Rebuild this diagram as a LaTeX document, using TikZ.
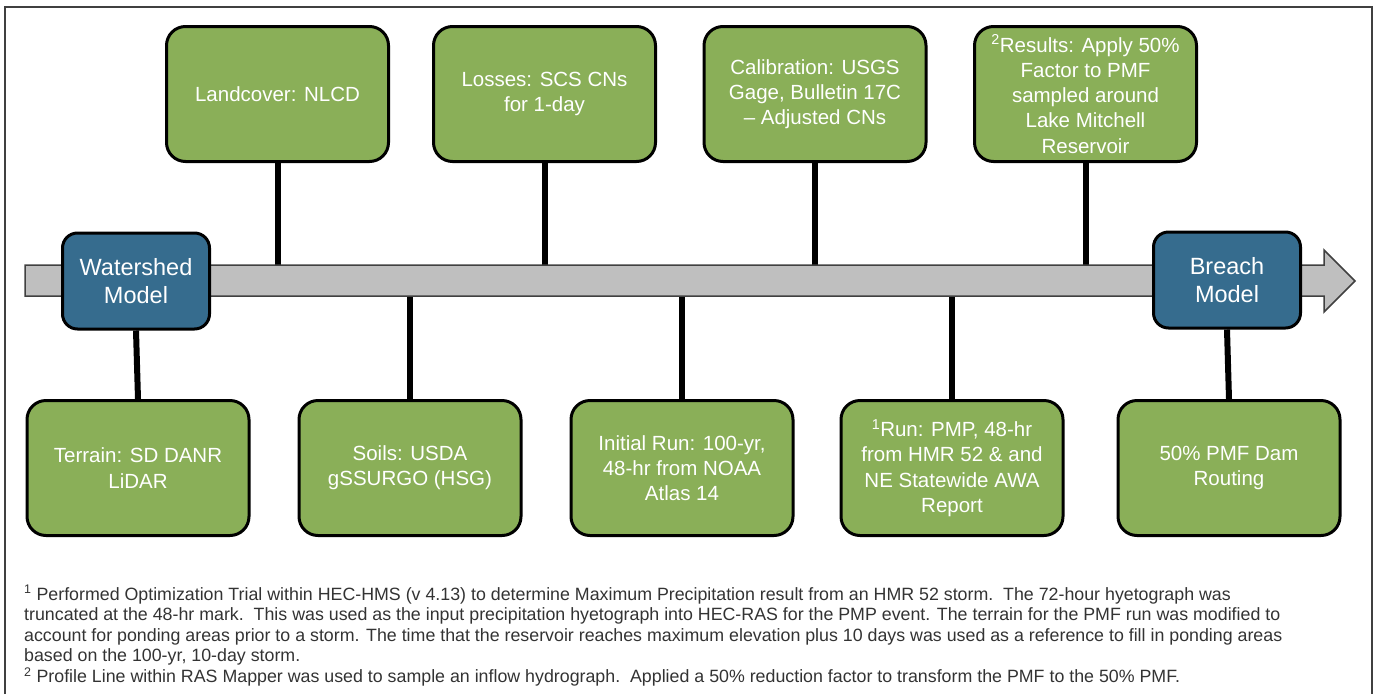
\documentclass[tikz,border=0pt]{standalone}
\usepackage{fontspec}
\setmainfont{Liberation Sans}
\usetikzlibrary{calc}
\definecolor{colgreen}{RGB}{138,175,88}
\definecolor{colblue}{RGB}{54,108,142}
\definecolor{colshaft}{RGB}{191,191,191}
\definecolor{coledge}{RGB}{64,64,64}
\definecolor{colnote}{RGB}{51,51,51}
\tikzset{
  gbox/.style={
    rectangle, rounded corners=19pt, draw=black, line width=3pt,
    fill=colgreen, text=white, align=center,
    minimum width=222pt, minimum height=135pt, inner sep=2pt,
    font=\fontsize{20.5}{25.2}\selectfont
  },
  bbox/.style={
    rectangle, rounded corners=15pt, draw=black, line width=3pt,
    fill=colblue, text=white, align=center,
    minimum width=147pt, minimum height=96pt, inner sep=2pt,
    font=\fontsize{23.5}{28}\selectfont
  },
  link/.style={line width=6pt, draw=black}
}

\begin{document}
\begin{tikzpicture}[x=1pt,y=-1pt]
  \useasboundingbox (0,0) rectangle (1374,694);

  % frame
  \draw[coledge, line width=1.5pt] (5,694) |- (1372,7) -- (1372,694);

  % the timeline
  \coordinate (shafttop) at (25,265);
  \coordinate (shaftbot) at (25,296);

  % The boxes
  \node[gbox] (land)   at (277.5,94)  {Landcover: NLCD};
  \node[gbox] (loss)   at (544.5,94)  {Losses: SCS CNs\\for 1-day};
  \node[gbox] (calib)  at (815,94)    {Calibration: USGS\\Gage, Bulletin 17C\\– Adjusted CNs};
  \node[gbox] (result) at (1085.5,94) {\textsuperscript{2}Results: Apply 50\%\\Factor to PMF\\sampled around\\Lake Mitchell\\Reservoir};

  \node[gbox] (terrain) at (138,468)  {Terrain: SD DANR\\LiDAR};
  \node[gbox] (soils)   at (410,468)  {Soils: USDA\\gSSURGO (HSG)};
  \node[gbox] (initrun) at (682,468)  {Initial Run: 100-yr,\\48-hr from NOAA\\Atlas 14};
  \node[gbox] (pmprun)  at (952,468)  {\textsuperscript{1}Run: PMP, 48-hr\\from HMR 52 \& and\\NE Statewide AWA\\Report};
  \node[gbox] (routing) at (1229,468) {50\% PMF Dam\\Routing};

  % connectors
  \foreach \n in {land,loss,calib,result}
    \draw[link] (\n.south) -- (\n.south |- shafttop);
  \foreach \n in {soils,initrun,pmprun}
    \draw[link] (\n.north) -- (\n.north |- shaftbot);

  % Draw the arrow
  \filldraw[fill=colshaft, draw=coledge, line width=1.5pt]
    (shafttop) -- (1324,265) -- (1324,250) -- (1355,281)
    -- (1324,312) -- (1324,296) -- (shaftbot) -- cycle;

  % The models
  \node[bbox] (watershed) at (136,281) {Watershed\\Model};
  \node[bbox] (breach)    at (1227,280) {Breach\\Model};
  \draw[link] (watershed.south) -- (terrain.north);
  \draw[link] (breach.south) -- (routing.north);

  % footnotes
  \node[anchor=north west, align=left, text=colnote, inner sep=0pt,
    font=\fontsize{17.8}{20.6}\selectfont] (notes) at (24,585)
    {\textsuperscript{1} Performed Optimization Trial within HEC-HMS (v 4.13) to determine Maximum Precipitation result from an HMR 52 storm.\ \ The 72-hour hyetograph was\\
     truncated at the 48-hr mark.\ \ This was used as the input precipitation hyetograph into HEC-RAS for the PMP event. The terrain for the PMF run was modified to\\
     account for ponding areas prior to a storm. The time that the reservoir reaches maximum elevation plus 10 days was used as a reference to fill in ponding areas\\
     based on the 100-yr, 10-day storm.\\
     \textsuperscript{2} Profile Line within RAS Mapper was used to sample an inflow hydrograph.\ \ Applied a 50\% reduction factor to transform the PMF to the 50\% PMF.};
\end{tikzpicture}
\end{document}
